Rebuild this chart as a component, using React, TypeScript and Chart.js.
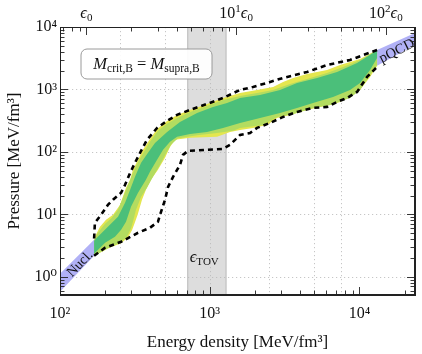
import React, { useEffect, useRef } from 'react';
import { Chart, registerables } from 'chart.js';

Chart.register(...registerables);

const SERIF = "'Liberation Serif', 'DejaVu Serif', serif";

// Axes
const X_MIN = 100;
const X_MAX = 23500;
const Y_MIN = 0.51;
const Y_MAX = 10000;
const EPS0 = 150; // MeV/fm^3
const X_TICKS = [100, 1000, 10000];
const Y_TICKS = [1, 10, 100, 1000, 10000];
const TOP_TICKS = [1, 10, 100]; // in units of eps0
const GRID_X = [250, 500, 1000, 2500, 5000, 7500];
const GRID_Y = [1, 10, 100, 1000];
const TOV_BAND = [713, 1285];

// Nuclear (low density) and pQCD bands: [energy density, pressure]
const NUCL_UPPER = [[100, 1.12], [169, 3.91]];
const NUCL_LOWER = [[100, 0.575], [169, 2.17]];
const PQCD_UPPER = [[13110, 4300], [23500, 8000]];
const PQCD_LOWER = [[13110, 2400], [23500, 5150]];

// Envelope (dashed)
const DASH_UPPER = [
  [169, 4.1], [171, 7.3], [188, 9.8], [209, 14.2], [226, 17.1], [256, 22.1], [272, 29.7],
  [294, 46], [317, 67], [348, 104], [381, 156], [445, 242], [519, 313], [605, 391],
  [739, 470], [959, 586], [1227, 731], [1594, 982], [1946, 1096], [2528, 1318],
  [3088, 1528], [4467, 1905], [6076, 2466], [8654, 2965], [13110, 4285],
];
const DASH_LOWER = [
  [169, 2.17], [200, 2.91], [256, 3.63], [332, 5.06], [399, 6.08], [451, 7.59],
  [473, 10.96], [503, 17.1], [527, 27.5], [569, 39.8], [633, 61.9], [663, 89.5],
  [716, 103.8], [959, 107.7], [1227, 111.7], [1367, 129.4], [1594, 187], [1859, 201],
  [2070, 242], [2528, 291], [3088, 363], [3830, 437], [4898, 506], [6076, 525],
  [7086, 631], [8264, 731], [9638, 912], [11240, 1585], [13110, 2291],
];

// Outer band (yellow)
const YELLOW_UPPER = [
  [169, 3.91], [171, 4.37], [185, 6.31], [203, 8.17], [226, 9.82], [252, 14.2],
  [263, 19.1], [276, 26.6], [294, 35.7], [307, 51.5], [332, 74.5], [358, 108],
  [399, 161], [445, 233], [519, 313], [605, 391], [739, 470], [959, 586], [1227, 731],
  [1594, 879], [2070, 982], [2648, 1096], [3088, 1318], [3602, 1528], [4467, 1770],
  [6076, 2051], [7420, 2466], [10090, 3076], [13110, 4285],
];
const YELLOW_LOWER = [
  [169, 2.17], [216, 2.95], [256, 3.45], [285, 4.3], [303, 5.6], [315, 7.2], [330, 9.8],
  [342, 13.2], [353, 17.1], [375, 24.7], [405, 35.7], [451, 51.5], [503, 80.2],
  [543, 120], [586, 156], [739, 168], [1119, 174], [1367, 209], [1594, 225], [1946, 242],
  [2415, 270], [2816, 350], [3440, 391], [4467, 470], [5455, 525], [6362, 565],
  [7420, 631], [9062, 817], [10090, 982], [11770, 1585], [13110, 2377],
];

// Middle band (light green)
const LIGHT_UPPER = [
  [169, 3.91], [179, 5.06], [200, 7.05], [222, 8.79], [244, 11.8], [260, 17.1],
  [276, 24.7], [298, 38.4], [322, 59.7], [353, 89.5], [399, 145], [451, 217], [519, 281],
  [605, 350], [739, 437], [959, 545], [1227, 679], [1594, 787], [2070, 879], [2648, 982],
  [3440, 1225], [4467, 1472], [6076, 1837], [7770, 2291], [10090, 2965], [13110, 4285],
];
const LIGHT_LOWER = [
  [169, 2.17], [216, 3.0], [252, 3.5], [280, 4.4], [298, 5.9], [307, 7.6], [322, 11.8],
  [348, 19.05], [381, 26.6], [418, 39.8], [466, 62], [511, 95], [551, 130], [614, 165],
  [823, 185], [1119, 201], [1431, 217], [1594, 242], [2270, 270], [2816, 363],
  [3602, 406], [4898, 506], [6362, 565], [8654, 731], [10090, 982], [11770, 1706],
  [13110, 2466],
];

// Inner band (dark green)
const DARK_UPPER = [
  [169, 3.77], [179, 4.37], [209, 6.31], [244, 9.12], [272, 15.3], [294, 24.7],
  [317, 39.8], [348, 66.7], [387, 96.4], [431, 139], [519, 209], [633, 302], [823, 421],
  [1052, 525], [1305, 608], [1594, 731], [2168, 817], [2949, 982], [3830, 1271],
  [5210, 1528], [7086, 1905], [9638, 2655], [12330, 3837], [13110, 4285],
];
const DARK_LOWER = [
  [169, 2.33], [200, 3.5], [233, 4.37], [256, 5.65], [276, 7.59], [298, 13.2],
  [332, 22.1], [375, 35.7], [399, 47.9], [445, 74.5], [488, 108], [543, 145], [605, 174],
  [739, 194], [959, 209], [1227, 242], [1594, 291], [2168, 350], [2949, 421], [3830, 506],
  [4898, 608], [6662, 759], [8654, 982], [10090, 1271], [11770, 2051], [13110, 3192],
];

// Label anchors (data coordinates)
const NUCL_LABEL = [136, 1.6];
const PQCD_LABEL = [17800, 4100];
const TOV_LABEL_Y = 2.0;

const COLORS = {
  dark: '#4bbf7a',
  light: '#b3dc60',
  yellow: '#e4e64f',
  purple: '#b1b1f6',
  tov: '#dddddd',
  tovEdge: '#c4c4c4',
  grid: '#b8b8b8',
  axis: '#222222',
};

const SUP: Record<string, string> = { '0': '⁰', '1': '¹', '2': '²', '3': '³', '4': '⁴', '-': '⁻' };
const pow10 = (v: number) => '10' + String(Math.round(Math.log10(v))).split('').map((c) => SUP[c]).join('');

const pts = (arr: number[][]) => arr.map(([x, y]) => ({ x, y }));
const poly = (upper: number[][], lower: number[][]) => pts([...upper, ...lower.slice().reverse()]);

type Piece = [string, number, boolean?, number?];
function drawRich(ctx: CanvasRenderingContext2D, pieces: Piece[], x: number, y: number, align = 'center') {
  const fonts = pieces.map(([, s, it]) => `${it ? 'italic ' : ''}${s}px ${SERIF}`);
  let w = 0;
  pieces.forEach((p, i) => {
    ctx.font = fonts[i];
    w += ctx.measureText(p[0]).width;
  });
  let cx = align === 'center' ? x - w / 2 : align === 'right' ? x - w : x;
  ctx.textAlign = 'left';
  ctx.textBaseline = 'alphabetic';
  pieces.forEach((p, i) => {
    ctx.font = fonts[i];
    ctx.fillText(p[0], cx, y + (p[3] || 0));
    cx += ctx.measureText(p[0]).width;
  });
}

function logTicks(min: number, max: number, scale = 1) {
  const out: { v: number; major: boolean }[] = [];
  for (let n = -2; n <= 6; n++) {
    for (let k = 1; k <= 9; k++) {
      const v = k * Math.pow(10, n) * scale;
      if (v >= min * 0.9999 && v <= max * 1.0001) out.push({ v, major: k === 1 });
    }
  }
  return out;
}

const decor = {
  id: 'decor',
  beforeDatasetsDraw(chart: any) {
    const { ctx, chartArea: a, scales } = chart;
    const { x, y } = scales;
    ctx.save();
    const x0 = x.getPixelForValue(TOV_BAND[0]);
    const x1 = x.getPixelForValue(TOV_BAND[1]);
    ctx.fillStyle = COLORS.tov;
    ctx.fillRect(x0, a.top, x1 - x0, a.bottom - a.top);
    ctx.strokeStyle = COLORS.tovEdge;
    ctx.lineWidth = 1.3;
    [x0, x1].forEach((px) => {
      ctx.beginPath();
      ctx.moveTo(px, a.top);
      ctx.lineTo(px, a.bottom);
      ctx.stroke();
    });
    ctx.strokeStyle = COLORS.grid;
    ctx.lineWidth = 0.8;
    ctx.setLineDash([1.2, 2.8]);
    GRID_X.forEach((v) => {
      const px = Math.round(x.getPixelForValue(v)) + 0.5;
      ctx.beginPath();
      ctx.moveTo(px, a.top);
      ctx.lineTo(px, a.bottom);
      ctx.stroke();
    });
    GRID_Y.forEach((v) => {
      const py = Math.round(y.getPixelForValue(v)) + 0.5;
      ctx.beginPath();
      ctx.moveTo(a.left, py);
      ctx.lineTo(a.right, py);
      ctx.stroke();
    });
    ctx.restore();
  },
  afterDatasetsDraw(chart: any) {
    const { ctx, chartArea: a, scales } = chart;
    const { x, y } = scales;
    ctx.save();
    ctx.fillStyle = '#111';
    const angleOf = (band: number[][]) => {
      const dx = x.getPixelForValue(band[1][0]) - x.getPixelForValue(band[0][0]);
      const dy = y.getPixelForValue(band[1][1]) - y.getPixelForValue(band[0][1]);
      return Math.atan2(dy, dx);
    };
    const rotLabel = (text: string, at: number[], ang: number, size: number) => {
      ctx.save();
      ctx.translate(x.getPixelForValue(at[0]), y.getPixelForValue(at[1]));
      ctx.rotate(ang);
      ctx.font = `${size}px ${SERIF}`;
      ctx.textAlign = 'center';
      ctx.textBaseline = 'middle';
      ctx.fillText(text, 0, 0);
      ctx.restore();
    };
    rotLabel('Nucl.', NUCL_LABEL, (angleOf(NUCL_UPPER) + angleOf(NUCL_LOWER)) / 2, 14);
    rotLabel('pQCD', PQCD_LABEL, (angleOf(PQCD_UPPER) + angleOf(PQCD_LOWER)) / 2, 14.5);
    drawRich(
      ctx,
      [['ϵ', 16.5, true], ['TOV', 11, false, 3]],
      x.getPixelForValue(TOV_BAND[0]) + 2,
      y.getPixelForValue(TOV_LABEL_Y) + 4,
      'left'
    );
    const bx = a.left + 21, by = a.top + 22, bw = 131, bh = 30, r = 6;
    ctx.beginPath();
    ctx.moveTo(bx + r, by);
    ctx.arcTo(bx + bw, by, bx + bw, by + bh, r);
    ctx.arcTo(bx + bw, by + bh, bx, by + bh, r);
    ctx.arcTo(bx, by + bh, bx, by, r);
    ctx.arcTo(bx, by, bx + bw, by, r);
    ctx.closePath();
    ctx.fillStyle = 'rgba(255,255,255,0.92)';
    ctx.fill();
    ctx.strokeStyle = '#9a9a9a';
    ctx.lineWidth = 1;
    ctx.stroke();
    ctx.fillStyle = '#111';
    drawRich(
      ctx,
      [['M', 16.5, true], ['crit,B', 11.5, false, 3], [' = ', 16.5], ['M', 16.5, true], ['supra,B', 11.5, false, 3]],
      bx + bw / 2,
      by + bh / 2 + 5
    );
    ctx.restore();
  },
  afterDraw(chart: any) {
    const { ctx, chartArea: a, scales } = chart;
    const { x, y, xTop } = scales;
    ctx.save();
    ctx.strokeStyle = COLORS.axis;
    ctx.lineWidth = 0.9;
    const MAJ = 8, MIN = 4.5;
    logTicks(Y_MIN, Y_MAX).forEach(({ v, major }) => {
      const py = Math.round(y.getPixelForValue(v)) + 0.5;
      const L = major ? MAJ : MIN;
      ctx.beginPath();
      ctx.moveTo(a.left, py);
      ctx.lineTo(a.left + L, py);
      ctx.moveTo(a.right, py);
      ctx.lineTo(a.right - L, py);
      ctx.stroke();
    });
    logTicks(X_MIN, X_MAX).forEach(({ v, major }) => {
      const px = Math.round(x.getPixelForValue(v)) + 0.5;
      const L = major ? MAJ : MIN;
      ctx.beginPath();
      ctx.moveTo(px, a.bottom);
      ctx.lineTo(px, a.bottom - L);
      ctx.stroke();
    });
    logTicks(X_MIN / EPS0, X_MAX / EPS0).forEach(({ v, major }) => {
      const px = Math.round(xTop.getPixelForValue(v)) + 0.5;
      const L = major ? MAJ : MIN;
      ctx.beginPath();
      ctx.moveTo(px, a.top);
      ctx.lineTo(px, a.top + L);
      ctx.stroke();
    });
    ctx.lineWidth = 1;
    ctx.strokeRect(Math.round(a.left) + 0.5, Math.round(a.top) + 0.5, Math.round(a.right - a.left) - 1, Math.round(a.bottom - a.top) - 1);
    ctx.fillStyle = '#111';
    TOP_TICKS.forEach((v) => {
      const px = xTop.getPixelForValue(v);
      const n = Math.round(Math.log10(v));
      const pieces: Piece[] = n === 0
        ? [['ϵ', 16.5, true], ['0', 11, false, 3]]
        : [['10', 16], [String(n), 11, false, -6], ['ϵ', 16.5, true], ['0', 11, false, 3]];
      drawRich(ctx, pieces, px, a.top - 9);
    });
    ctx.restore();
  },
};

const band = (data: any[], color: string) => ({
  data,
  showLine: true,
  fill: 'shape',
  backgroundColor: color,
  borderColor: 'rgba(0,0,0,0)',
  borderWidth: 0,
  pointRadius: 0,
  tension: 0,
});
const dashed = (data: any[]) => ({
  data,
  showLine: true,
  fill: false,
  borderColor: '#000',
  borderWidth: 2.6,
  borderDash: [5, 4],
  pointRadius: 0,
  tension: 0,
});

export default function App() {
  const ref = useRef<HTMLCanvasElement>(null);
  useEffect(() => {
    const tickFont = { family: SERIF, size: 16 };
    const chart = new Chart(ref.current as HTMLCanvasElement, {
      type: 'line',
      data: {
        datasets: [
          dashed(pts(DASH_UPPER)),
          dashed(pts(DASH_LOWER)),
          band(poly(DARK_UPPER, DARK_LOWER), COLORS.dark),
          band(poly(LIGHT_UPPER, LIGHT_LOWER), COLORS.light),
          band(poly(YELLOW_UPPER, YELLOW_LOWER), COLORS.yellow),
          band(poly(NUCL_UPPER, NUCL_LOWER), COLORS.purple),
          band(poly(PQCD_UPPER, PQCD_LOWER), COLORS.purple),
        ] as any,
      },
      options: {
        responsive: false,
        animation: false,
        events: [],
        layout: { padding: 0 },
        plugins: { legend: { display: false }, tooltip: { enabled: false } },
        scales: {
          x: {
            type: 'logarithmic',
            position: 'bottom',
            min: X_MIN,
            max: X_MAX,
            afterBuildTicks: (s: any) => {
              s.ticks = X_TICKS.map((v) => ({ value: v, major: true }));
            },
            ticks: {
              autoSkip: false,
              maxRotation: 0,
              padding: 9,
              color: '#111',
              font: tickFont,
              callback: (v: any) => pow10(Number(v)),
            },
            grid: { display: false, drawTicks: false },
            border: { display: true, color: COLORS.axis, width: 1 },
            title: {
              display: true,
              text: 'Energy density [MeV/fm³]',
              color: '#111',
              font: { family: SERIF, size: 17 },
              padding: { top: 0, bottom: 1 },
            },
            afterFit: (s: any) => {
              s.height = 59;
            },
          },
          xTop: {
            type: 'logarithmic',
            position: 'top',
            min: X_MIN / EPS0,
            max: X_MAX / EPS0,
            ticks: { display: false },
            grid: { display: false, drawTicks: false },
            border: { display: true, color: COLORS.axis, width: 1 },
            afterFit: (s: any) => {
              s.height = 27;
            },
          },
          y: {
            type: 'logarithmic',
            position: 'left',
            min: Y_MIN,
            max: Y_MAX,
            afterBuildTicks: (s: any) => {
              s.ticks = Y_TICKS.map((v) => ({ value: v, major: true }));
            },
            ticks: {
              autoSkip: false,
              padding: 3,
              color: '#111',
              font: tickFont,
              callback: (v: any) => pow10(Number(v)),
            },
            grid: { display: false, drawTicks: false },
            border: { display: true, color: COLORS.axis, width: 1 },
            title: {
              display: true,
              text: 'Pressure [MeV/fm³]',
              color: '#111',
              font: { family: SERIF, size: 17 },
              padding: { top: 4, bottom: 0 },
            },
            afterFit: (s: any) => {
              s.width = 60;
            },
          },
          yRight: {
            type: 'logarithmic',
            position: 'right',
            min: Y_MIN,
            max: Y_MAX,
            ticks: { display: false },
            grid: { display: false, drawTicks: false },
            border: { display: true, color: COLORS.axis, width: 1 },
            afterFit: (s: any) => {
              s.width = 7;
            },
          },
        },
      } as any,
      plugins: [decor],
    });
    return () => chart.destroy();
  }, []);
  return (
    <div style={{ width: 422, height: 354 }}>
      <style>{'body{margin:0}'}</style>
      <canvas ref={ref} width={422} height={354} style={{ display: 'block' }} />
    </div>
  );
}
